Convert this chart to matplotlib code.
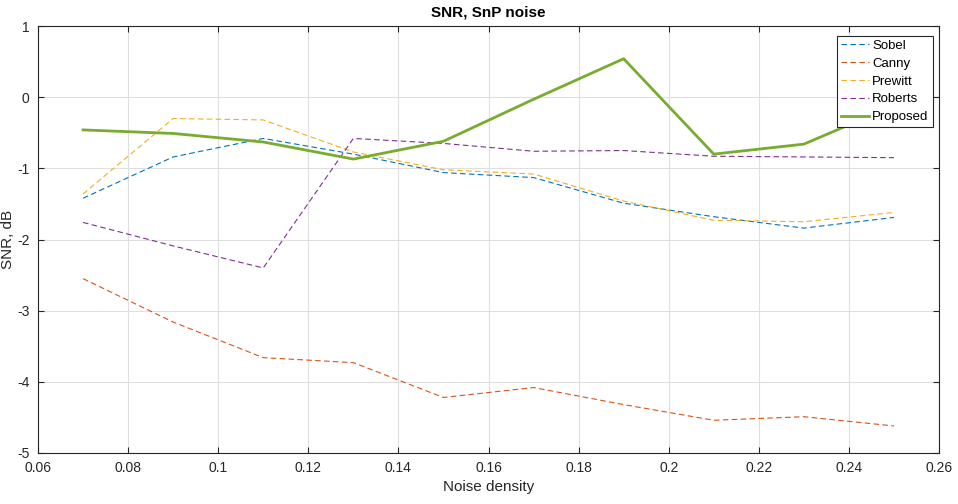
import matplotlib.pyplot as plt
import numpy as np

plt.rcParams['font.family'] = ['Liberation Sans', 'DejaVu Sans']
plt.rcParams['axes.unicode_minus'] = False

# Données
noise_density = [0.07, 0.09, 0.11, 0.13, 0.15, 0.17, 0.19, 0.21, 0.23, 0.25]
sobel = [-1.42, -0.84, -0.58, -0.80, -1.06, -1.13, -1.49, -1.68, -1.84, -1.69]
canny = [-2.55, -3.16, -3.66, -3.73, -4.22, -4.08, -4.32, -4.54, -4.49, -4.62]
prewitt = [-1.36, -0.30, -0.32, -0.77, -1.02, -1.08, -1.46, -1.73, -1.75, -1.62]
roberts = [-1.76, -2.09, -2.40, -0.58, -0.65, -0.76, -0.75, -0.83, -0.84, -0.85]
proposed = [-0.46, -0.51, -0.63, -0.87, -0.62, -0.03, 0.54, -0.80, -0.66, -0.12]

fig = plt.figure(figsize=(9.58, 5.04), dpi=100)
ax = fig.add_axes([38 / 958, 1 - 453 / 504, (939 - 38) / 958, (453 - 26) / 504])

ax.plot(noise_density, sobel, "--", color="#0072BD", lw=0.8, dashes=(5, 3), label="Sobel")
ax.plot(noise_density, canny, "--", color="#D95319", lw=0.8, dashes=(5, 3), label="Canny")
ax.plot(noise_density, prewitt, "--", color="#EDB120", lw=0.8, dashes=(5, 3), label="Prewitt")
ax.plot(noise_density, roberts, "--", color="#7E2F8E", lw=0.8, dashes=(5, 3), label="Roberts")
ax.plot(noise_density, proposed, "-", color="#77AC30", lw=2, label="Proposed")

ax.set_xlim(0.06, 0.26)
ax.set_ylim(-5, 1)
ax.set_xticks(np.arange(0.06, 0.261, 0.02))
ax.set_xticklabels(["0.06", "0.08", "0.1", "0.12", "0.14", "0.16", "0.18", "0.2", "0.22", "0.24", "0.26"])
ax.set_yticks(np.arange(-5, 2, 1))
ax.grid(True, color="#DFDFDF", lw=0.8)
ax.set_axisbelow(True)
ax.tick_params(direction="in", top=True, right=True, length=4, labelsize=10, colors="#262626")
ax.tick_params(axis="x", pad=6)
ax.tick_params(axis="y", pad=6)
for s in ax.spines.values():
    s.set_color("#262626")
    s.set_linewidth(0.8)

ax.set_xlabel("Noise density", fontsize=11, color="#262626", labelpad=3)
ax.set_ylabel("SNR, dB", fontsize=11, color="#262626")
ax.yaxis.set_label_coords(-0.026, 0.5)
ax.set_title("SNR, SnP noise", fontsize=11, fontweight="bold", pad=7)

leg = ax.legend(loc="upper right", bbox_to_anchor=(0.993, 0.977), fontsize=9.5, fancybox=False,
                framealpha=1, edgecolor="#262626", handlelength=2.1, borderpad=0.3,
                labelspacing=0.42, handletextpad=0.25, borderaxespad=0)
leg.get_frame().set_linewidth(0.8)

plt.savefig("out.png", dpi=100)
